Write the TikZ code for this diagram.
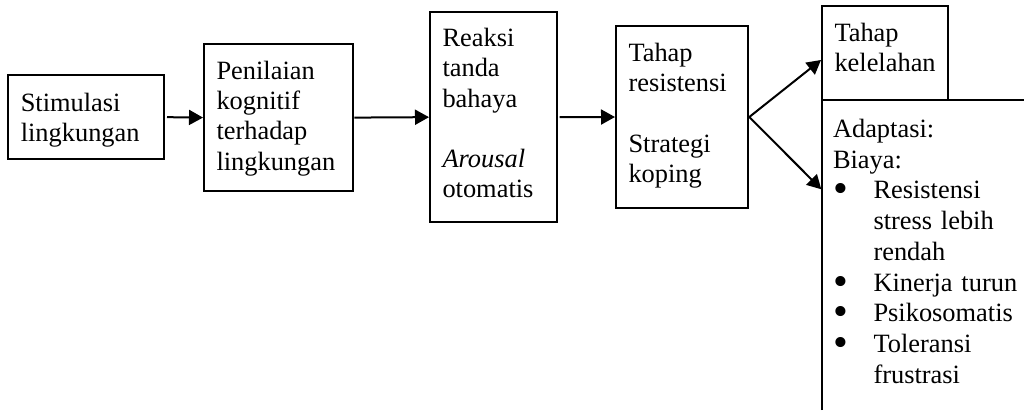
\documentclass[tikz,border=0pt]{standalone}
\usepackage{fontspec}
\setmainfont{Liberation Serif}
\usetikzlibrary{arrows.meta, positioning}

\newcommand{\butir}{\makebox[40.5pt][l]{\raisebox{-4pt}{\scalebox{1.6}{\textbullet}}}}
\newcommand{\lanjut}{\hspace*{40.5pt}}

\begin{document}
\begin{tikzpicture}[x=1pt, y=-1pt,
	stage/.style={draw, line width=2pt, anchor=north west, align=left, inner xsep=12.5pt, inner ysep=0pt, font=\fontsize{26.4}{30.2}\selectfont},
	cell/.style={anchor=north west, align=left, inner xsep=11pt, inner ysep=0pt, outer sep=0pt, font=\fontsize{26.4}{30.75}\selectfont},
	flow/.style={line width=2pt, -{Triangle[length=14pt, width=15pt]}}]
		\useasboundingbox (0,0) rectangle (1024,412);
		\node[stage, text width=130.7pt, text height=36.7pt, text depth=47.6pt] (stimulasi) at (7.3, 74) {Stimulasi\\lingkungan};
		\node[stage, text width=124.3pt, text height=35pt, text depth=111.2pt] (penilaian) at (203, 43.5) {Penilaian\\kognitif\\terhadap\\lingkungan};
		\node[stage, text width=101.7pt, text height=34.7pt, text depth=175.6pt] (reaksi) at (429, 11) {Reaksi\\tanda\\bahaya\\[\baselineskip]\textit{Arousal}\\otomatis};
		\node[stage, text width=107.3pt, text height=36pt, text depth=146.6pt] (resistensi) at (615, 24.7) {Tahap\\resistensi\\[\baselineskip]Strategi\\koping};
		\node[stage, text width=101pt, text height=35.7pt, text depth=58.3pt] (kelelahan) at (821, 5) {Tahap\\kelelahan};
		\node[cell, text width=180pt, text height=37.3pt, text depth=272.7pt] (adaptasi) at (822, 100) {Adaptasi:\\Biaya:\\\butir Resistensi\\\lanjut\mbox{stress lebih}\\\lanjut rendah\\\butir\mbox{Kinerja turun}\\\butir Psikosomatis\\\butir Toleransi\\\lanjut frustrasi};
		\draw[line width=1.5pt] (adaptasi.south west) |- (adaptasi.north east);
		\draw[flow, shorten <=2pt] (stimulasi.east) -- (penilaian.west);
		\draw[flow] (penilaian.east) -- (reaksi.west);
		\draw[flow, shorten <=2pt] (reaksi.east) -- (resistensi.west);
		\draw[flow] (resistensi.east) -- (kelelahan.west |- 0,60);
		\draw[flow, shorten >=1pt] (resistensi.east) -- (adaptasi.west |- 0,190);
	\end{tikzpicture}
\end{document}
